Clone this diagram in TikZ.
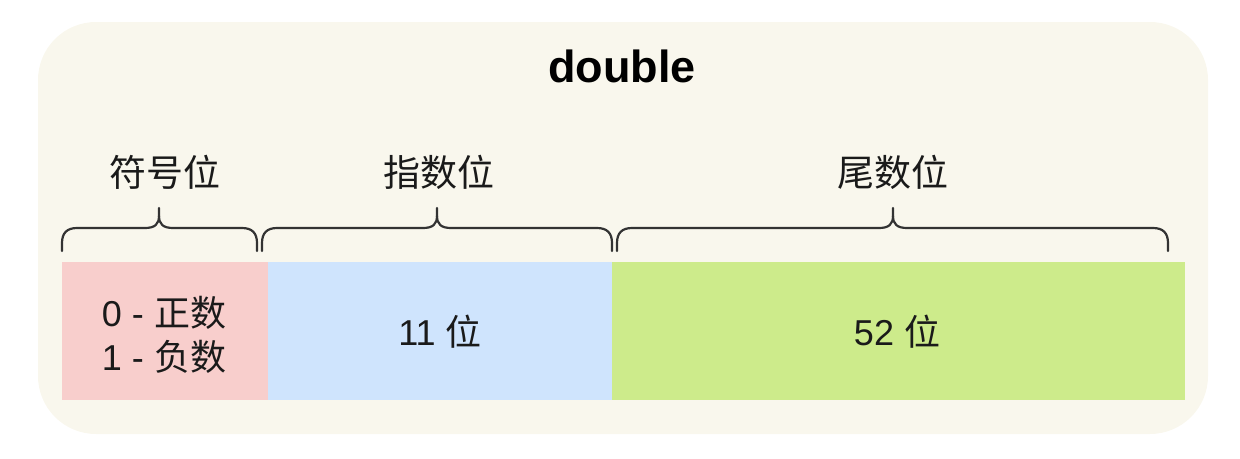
\documentclass[tikz,border=0pt]{standalone}
\usepackage{fontspec}
\setmainfont{Liberation Sans}
\newfontfamily\cjk{Noto Sans CJK SC}
\definecolor{bgc}{HTML}{F9F7ED}
\definecolor{pinkc}{HTML}{F8CECC}
\definecolor{bluec}{HTML}{CFE4FD}
\definecolor{greenc}{HTML}{CDEB8B}
\definecolor{bracec}{HTML}{333333}
\definecolor{txtc}{HTML}{1A1A1A}
\newcommand\mybrace[3]{%
  \draw[bracestyle] (#1,251) -- (#1,243) .. controls (#1,233) and (#1+5,228) .. (#1+15,228)
    -- (#2-14,228) .. controls (#2-4,228) and (#2,224) .. (#2,216) -- (#2,208);
  \draw[bracestyle] (#3,251) -- (#3,243) .. controls (#3,233) and (#3-5,228) .. (#3-15,228)
    -- (#2+14,228) .. controls (#2+4,228) and (#2,224) .. (#2,216);
}
\tikzset{
  bracestyle/.style={draw=bracec, line width=2.2pt, line cap=round},
  cell/.style={inner sep=0pt, outer sep=0pt, draw=none},
  lbl/.style={text=txtc, font=\cjk\fontsize{37}{44}\selectfont, inner sep=0pt},
  celltxt/.style={text=txtc, font=\fontsize{36}{44}\selectfont, inner sep=0pt, align=center},
}
\begin{document}
\begin{tikzpicture}[x=1pt,y=-1pt]
\useasboundingbox (0,0) rectangle (1240,458);
\fill[bgc, rounded corners=58pt] (38,22) rectangle (1208,434);
\node (title) [text=black, font=\fontsize{45}{54}\selectfont\bfseries, inner sep=0pt] at (622,66) {double};
% cells
\node (sign) [cell, fill=pinkc, minimum width=206pt, minimum height=138pt] at (165,331) {};
\node (expo) [cell, fill=bluec, minimum width=345pt, minimum height=138pt] at (440,331) {};
\node (mant) [cell, fill=greenc, minimum width=573pt, minimum height=138pt] at (898.5,331) {};
\node (signtxt) [celltxt] at (164,335) {0 - {\cjk 正数}\\1 - {\cjk 负数}};
\node (expotxt) [celltxt] at (440,332) {11 {\cjk 位}};
\node (manttxt) [celltxt] at (897,332) {52 {\cjk 位}};
% braces
\mybrace{62}{159}{257}
\mybrace{262}{437}{612}
\mybrace{617}{893}{1168}
% labels
\node (signlbl) [lbl] at (165,172) {符号位};
\node (expolbl) [lbl] at (439,172) {指数位};
\node (mantlbl) [lbl] at (893,172) {尾数位};
\end{tikzpicture}
\end{document}
